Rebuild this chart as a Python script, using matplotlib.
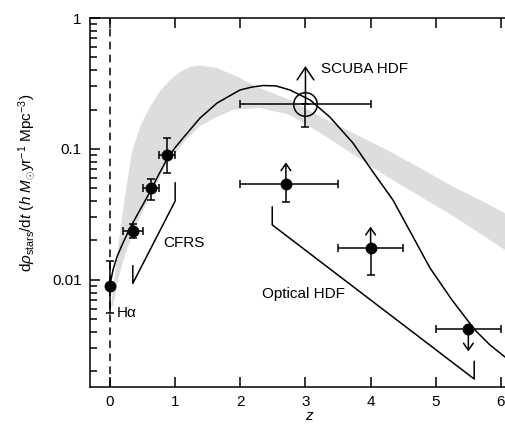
import matplotlib
matplotlib.use("Agg")
import matplotlib.pyplot as plt
from matplotlib.ticker import FixedLocator, FixedFormatter, LogLocator, NullFormatter

plt.rcParams['font.family'] = ['Liberation Sans', 'DejaVu Sans']
plt.rcParams['mathtext.fontset'] = 'custom'
plt.rcParams['mathtext.rm'] = 'Liberation Sans'
plt.rcParams['mathtext.it'] = 'Liberation Sans:italic'

# ---- model curve ----
model_z = [0.0, 0.046, 0.107, 0.20, 0.307, 0.46, 0.614, 0.737, 0.859, 0.997, 1.12,
           1.381, 1.642, 1.995, 2.18, 2.35, 2.547, 2.762, 3.069, 3.376, 3.729, 4.036,
           4.342, 4.634, 4.91, 5.248, 5.6, 5.83, 6.061, 6.21]
model_sfr = [0.0092, 0.0119, 0.015, 0.0192, 0.0249, 0.0342, 0.047, 0.0622, 0.081,
             0.102, 0.121, 0.172, 0.224, 0.282, 0.297, 0.305, 0.303, 0.282, 0.237,
             0.175, 0.111, 0.0667, 0.0408, 0.0221, 0.01236, 0.00703, 0.00415,
             0.00319, 0.00258, 0.00228]

# ---- grey band ----
band_hi_z = [0.015, 0.092, 0.169, 0.261, 0.338, 0.46, 0.614, 0.767, 0.921, 1.074,
             1.228, 1.381, 1.642, 1.995, 2.256, 2.762, 3.222, 3.729, 4.25, 4.757,
             5.264, 5.677, 6.061, 6.215]
band_hi = [0.00633, 0.0128, 0.0263, 0.055, 0.0948, 0.147, 0.209, 0.277, 0.336, 0.387,
           0.423, 0.434, 0.415, 0.348, 0.297, 0.237, 0.1765, 0.1325, 0.0982, 0.0716,
           0.0515, 0.0408, 0.0323, 0.0292]
band_lo_z = [0.046, 0.123, 0.23, 0.384, 0.614, 0.859, 1.12, 1.381, 1.642, 1.887,
             2.302, 2.762, 3.299, 4.25, 5.264, 6.061, 6.215]
band_lo = [0.00622, 0.0100, 0.0155, 0.0249, 0.0438, 0.0742, 0.111, 0.150, 0.1755,
           0.1985, 0.2056, 0.182, 0.1256, 0.0615, 0.0308, 0.01695, 0.0152]

# ---- H-alpha ----
ha_z = [0.0]
ha_sfr = [0.009]
ha_lo = [0.0056]
ha_hi = [0.014]

# ---- CFRS points ----
cfrs_z = [0.35, 0.625, 0.875]
cfrs_dz = [0.15, 0.125, 0.125]
cfrs_sfr = [0.0235, 0.050, 0.090]
cfrs_lo = [0.0208, 0.041, 0.066]
cfrs_hi = [0.0267, 0.059, 0.121]

# CFRS bracket
cfrs_box_z = [0.35, 0.35, 1.0, 1.0]
cfrs_box_sfr = [0.0128, 0.0094, 0.040, 0.055]

# ---- Optical HDF points ----
hdf_z = [2.7, 4.0, 5.5]
hdf_zlo = [2.0, 3.5, 5.0]
hdf_zhi = [3.5, 4.5, 6.0]
hdf_sfr = [0.054, 0.0175, 0.0042]
hdf_lo = [0.039, 0.0109, None]
hdf_arrow = [0.079, 0.0255, 0.00284]

# Optical HDF bracket
hdf_box_z = [2.49, 2.49, 5.59, 5.59]
hdf_box_sfr = [0.036, 0.0263, 0.00175, 0.00238]

# ---- SCUBA HDF ----
scuba_z = [3.0]
scuba_zlo = [2.0]
scuba_zhi = [4.0]
scuba_sfr = [0.22]
scuba_lo = [0.146]
scuba_arrow = [0.43]

fig = plt.figure(figsize=(5.05, 4.24), dpi=100)
ax = fig.add_axes([90/505, 37/424, 422/505, 369/424])
ax.set_yscale('log')
ax.set_xlim(-0.307, 6.17)
ax.set_ylim(0.00152, 1.0)

lw = 1.1
ax.fill(band_hi_z + band_lo_z[::-1], band_hi + band_lo[::-1],
        color='#dddddd', lw=0, zorder=1)
ax.plot(model_z, model_sfr, color='black', lw=lw, zorder=3)
ax.axvline(0, color='black', lw=lw, ls=(0, (5, 3.5)), zorder=2)

ax.plot(cfrs_box_z, cfrs_box_sfr, color='black', lw=lw, zorder=3)
ax.plot(hdf_box_z, hdf_box_sfr, color='black', lw=lw, zorder=3)

ms = 7.5
# H alpha
ax.errorbar(ha_z, ha_sfr,
            yerr=[[s - l for s, l in zip(ha_sfr, ha_lo)], [h - s for s, h in zip(ha_sfr, ha_hi)]],
            fmt='o', color='black', ms=ms, capsize=3, elinewidth=lw, capthick=lw, zorder=5)
# CFRS
ax.errorbar(cfrs_z, cfrs_sfr, xerr=cfrs_dz,
            yerr=[[s - l for s, l in zip(cfrs_sfr, cfrs_lo)], [h - s for s, h in zip(cfrs_sfr, cfrs_hi)]],
            fmt='o', color='black', ms=ms, capsize=3, elinewidth=lw, capthick=lw, zorder=5)
# HDF
for z, zl, zh, s, lo, ar in zip(hdf_z, hdf_zlo, hdf_zhi, hdf_sfr, hdf_lo, hdf_arrow):
    ax.errorbar([z], [s], xerr=[[z - zl], [zh - z]], fmt='o', color='black', ms=ms,
                capsize=3, elinewidth=lw, capthick=lw, zorder=5)
    if lo is not None:
        ax.errorbar([z], [s], yerr=[[s - lo], [0]], fmt='none', color='black',
                    capsize=3, elinewidth=lw, capthick=lw, zorder=5)
    ax.annotate('', xy=(z, ar), xytext=(z, s),
                arrowprops=dict(arrowstyle='->,head_length=0.5,head_width=0.35',
                                lw=lw, color='black', shrinkA=0, shrinkB=0), zorder=5)
# SCUBA
for z, zl, zh, s, lo, ar in zip(scuba_z, scuba_zlo, scuba_zhi, scuba_sfr, scuba_lo, scuba_arrow):
    ax.errorbar([z], [s], xerr=[[z - zl], [zh - z]], yerr=[[s - lo], [0]], fmt='none',
                color='black', capsize=3, elinewidth=lw, capthick=lw, zorder=5)
    ax.plot([z], [s], 'o', mfc='none', mec='black', ms=17, mew=lw, zorder=6)
    ax.annotate('', xy=(z, ar), xytext=(z, s),
                arrowprops=dict(arrowstyle='->,head_length=0.9,head_width=0.6',
                                lw=lw, color='black', shrinkA=0, shrinkB=0), zorder=5)

fs = 11
ax.text(3.24, 0.41, 'SCUBA HDF', fontsize=fs, va='center', ha='left')
ax.text(0.81, 0.0191, 'CFRS', fontsize=fs, va='center', ha='left')
ax.text(2.34, 0.0078, 'Optical HDF', fontsize=fs, va='center', ha='left')
ax.text(0.11, 0.0056, 'H\u03b1', fontsize=fs, va='center', ha='left')

# ticks
xticks = [0, 1, 2, 3, 4, 5, 6]
yticks = [0.01, 0.1, 1]
yticklabels = ['0.01', '0.1', '1']
ax.set_xticks(xticks)
ax.set_xticklabels([str(t) for t in xticks])
ax.yaxis.set_major_locator(FixedLocator(yticks))
ax.yaxis.set_major_formatter(FixedFormatter(yticklabels))
ax.yaxis.set_minor_locator(LogLocator(base=10, subs=[2, 3, 4, 5, 6, 7, 8, 9]))
ax.yaxis.set_minor_formatter(NullFormatter())
ax.tick_params(which='major', direction='in', length=7, width=lw, top=True, right=False,
               labelsize=fs, pad=6)
ax.tick_params(which='minor', direction='in', length=5, width=lw, right=False)
ax.tick_params(axis='x', which='minor', bottom=False, top=False)
for sp in ax.spines.values():
    sp.set_linewidth(lw)

fig.text(27/505, 1 - 183/424,
         r'd$\rho_{\rm stars}$/d$t$ ($h$ $M_{\odot}$yr$^{-1}$ Mpc$^{-3}$)',
         rotation=90, fontsize=fs, ha='center', va='center')
fig.text(310/505, 1 - 416/424, r'$z$', fontsize=fs, ha='center', va='center')

fig.savefig('out.png', dpi=100)
